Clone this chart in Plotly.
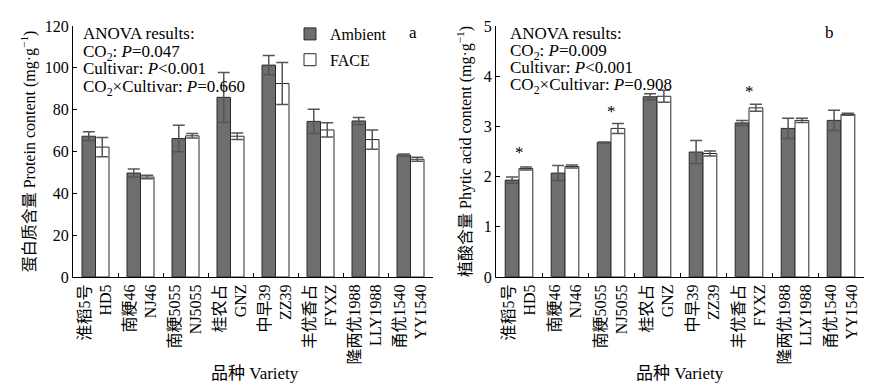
import plotly.graph_objects as go

cultivars_zh = ["淮稻5号", "南粳46", "南粳5055", "桂农占", "中早39", "丰优香占", "隆两优1988", "甬优1540"]
cultivars_en = ["HD5", "NJ46", "NJ5055", "GNZ", "ZZ39", "FYXZ", "LLY1988", "YY1540"]
categories = [f"{z}<br>{e}" for z, e in zip(cultivars_zh, cultivars_en)]

protein_ambient = [67.3, 49.7, 66.2, 85.9, 101.3, 74.4, 74.6, 58.3]
protein_ambient_err = [2.1, 1.9, 6.3, 11.9, 4.6, 5.8, 1.7, 0.5]
protein_face = [62.1, 47.8, 67.5, 67.3, 92.5, 70.3, 65.7, 56.3]
protein_face_err = [4.6, 0.8, 1.1, 1.6, 10.0, 3.4, 4.6, 1.0]

phytic_ambient = [1.93, 2.07, 2.68, 3.59, 2.49, 3.07, 2.96, 3.12]
phytic_ambient_err = [0.06, 0.15, 0.01, 0.06, 0.23, 0.05, 0.20, 0.20]
phytic_face = [2.16, 2.20, 2.96, 3.60, 2.46, 3.37, 3.12, 3.24]
phytic_face_err = [0.03, 0.03, 0.10, 0.12, 0.05, 0.07, 0.04, 0.02]

anova_left_lines = ["ANOVA results:", "CO<sub>2</sub>: <i>P</i>=0.047",
                    "Cultivar: <i>P</i>&lt;0.001", "CO<sub>2</sub>×Cultivar: <i>P</i>=0.660"]
anova_right_lines = ["ANOVA results:", "CO<sub>2</sub>: <i>P</i>=0.009",
                     "Cultivar: <i>P</i>&lt;0.001", "CO<sub>2</sub>×Cultivar: <i>P</i>=0.908"]

sig_index = [0, 2, 5]
sig_y = [2.53, 3.35, 3.75]

FONT = "Liberation Serif, 'Noto Sans CJK SC', serif"
AMB = "#6e6e70"
EDGE = "#2a2a2a"
ERRC = "#555555"

# page body has an 8px margin; work in screen pixels of the reference
OFF = 8
W, H = 883 - OFF, 391 - OFF


def px(x):
    return (x - OFF) / W


def py(y):
    return 1 - (y - OFF) / H


fig = go.Figure()


def add_bars(xa, ya, amb, amb_err, face, face_err, show):
    fig.add_trace(go.Bar(
        x=categories, y=amb, name="Ambient", xaxis=xa, yaxis=ya,
        marker=dict(color=AMB, line=dict(color=EDGE, width=1)),
        error_y=dict(type="data", array=amb_err, color=ERRC, thickness=1.5, width=6),
        showlegend=show, legendgroup="a"))
    fig.add_trace(go.Bar(
        x=categories, y=face, name="FACE", xaxis=xa, yaxis=ya,
        marker=dict(color="white", line=dict(color=EDGE, width=1)),
        error_y=dict(type="data", array=face_err, color=ERRC, thickness=1.5, width=6),
        showlegend=show, legendgroup="f"))


add_bars("x", "y", protein_ambient, protein_ambient_err, protein_face, protein_face_err, True)
add_bars("x2", "y2", phytic_ambient, phytic_ambient_err, phytic_face, phytic_face_err, False)

ydom = [py(277), py(26)]
common_x = dict(type="category", showline=True, linecolor="black", linewidth=1,
                ticks="inside", ticklen=4, tickcolor="black", tickson="boundaries",
                tickangle=-90, tickfont=dict(family=FONT, size=16, color="black"),
                showgrid=False, zeroline=False, automargin=False)
common_y = dict(showline=True, linecolor="black", linewidth=1, ticks="inside", ticklen=4,
                tickcolor="black", tickfont=dict(family=FONT, size=16, color="black"),
                showgrid=False, zeroline=False, automargin=False, domain=ydom)

fig.update_layout(
    width=W, height=H,
    margin=dict(l=0, r=0, t=0, b=0),
    paper_bgcolor="white", plot_bgcolor="white",
    barmode="group", bargap=0.4, bargroupgap=0,
    font=dict(family=FONT, size=16, color="black"),
    xaxis=dict(common_x, domain=[px(73), px(433)], anchor="y"),
    yaxis=dict(common_y, range=[0, 120], dtick=20, anchor="x",
               title=dict(text="蛋白质含量 Protein content (mg·g<sup>−1</sup>)", standoff=5,
                          font=dict(family=FONT, size=16, color="black"))),
    xaxis2=dict(common_x, domain=[px(496), px(864)], anchor="y2"),
    yaxis2=dict(common_y, range=[0, 5], dtick=1, anchor="x2",
                title=dict(text="植酸含量 Phytic acid content (mg·g<sup>−1</sup>)", standoff=8,
                           font=dict(family=FONT, size=16, color="black"))),
    legend=dict(x=px(290), y=py(17), xanchor="left", yanchor="top",
                bgcolor="rgba(0,0,0,0)", font=dict(family=FONT, size=16, color="black"),
                itemwidth=30, tracegroupgap=2),
)

annotations = []
line_y_left = [33, 50.5, 68, 86]
line_y_right = [33, 50, 67, 84]
for t, yy in zip(anova_left_lines, line_y_left):
    annotations.append(dict(text=t, x=px(81), y=py(yy - 11), xref="paper", yref="paper",
                            xanchor="left", yanchor="top", align="left", showarrow=False,
                            font=dict(family=FONT, size=17, color="black")))
for t, yy in zip(anova_right_lines, line_y_right):
    annotations.append(dict(text=t, x=px(508), y=py(yy - 11), xref="paper", yref="paper",
                            xanchor="left", yanchor="top", align="left", showarrow=False,
                            font=dict(family=FONT, size=17, color="black")))
annotations += [
    dict(text="a", x=px(413), y=py(33), xref="paper", yref="paper",
         xanchor="center", yanchor="middle",
         showarrow=False, font=dict(family=FONT, size=17, color="black")),
    dict(text="b", x=px(829), y=py(33), xref="paper", yref="paper",
         xanchor="center", yanchor="middle",
         showarrow=False, font=dict(family=FONT, size=17, color="black")),
    dict(text="品种 Variety", x=px(255), y=py(373), xref="paper", yref="paper",
         xanchor="center", yanchor="middle",
         showarrow=False, font=dict(family=FONT, size=17, color="black")),
    dict(text="品种 Variety", x=px(680), y=py(373), xref="paper", yref="paper",
         xanchor="center", yanchor="middle",
         showarrow=False, font=dict(family=FONT, size=17, color="black")),
]
for i, yv in zip(sig_index, sig_y):
    annotations.append(dict(text="*", x=i, y=yv, xref="x2", yref="y2", showarrow=False,
                            xanchor="center", yanchor="middle",
                            yshift=-3, font=dict(family=FONT, size=17, color="black")))
fig.update_layout(annotations=annotations)

fig.write_html("out.html")
